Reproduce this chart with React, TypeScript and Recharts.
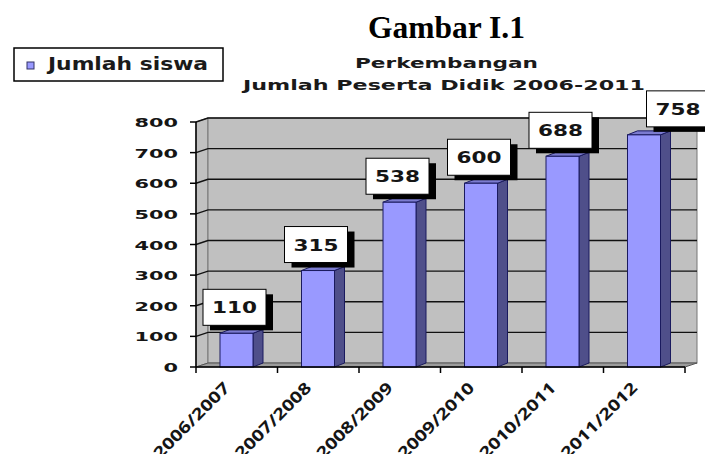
import { Bar, BarChart, LabelList, ReferenceArea, XAxis, YAxis } from 'recharts'

const years = ['2006/2007', '2007/2008', '2008/2009', '2009/2010', '2010/2011', '2011/2012']
const students = [110, 315, 538, 600, 688, 758]
const yTicks = [0, 100, 200, 300, 400, 500, 600, 700, 800]

const data = years.map((year, i) => ({ year, siswa: students[i] }))

// depth of the fake 3D look
const WALL_DX = 12
const WALL_DY = -4
const BAR_DX = 10
const BAR_DY = -4

const WALL = '#c0c0c0'
const FLOOR = '#9c9c9c'
const BAR_FRONT = '#9999ff'
const BAR_SIDE = '#4f4f8a'
const BAR_TOP = '#7b7bd0'
const BAR_EDGE = '#1a1a5e'

function Walls(props: any) {
  const { x, y, width: w, height: h } = props
  const max = yTicks[yTicks.length - 1]
  const n = years.length
  return (
    <g>
      <polygon
        points={`${x},${y} ${x + WALL_DX},${y + WALL_DY} ${x + WALL_DX},${y + h + WALL_DY} ${x},${y + h}`}
        fill={WALL}
        stroke="#777"
      />
      <rect x={x + WALL_DX} y={y + WALL_DY} width={w} height={h} fill={WALL} stroke="#777" />
      <polygon
        points={`${x},${y + h} ${x + WALL_DX},${y + h + WALL_DY} ${x + w + WALL_DX},${y + h + WALL_DY} ${x + w},${y + h}`}
        fill={FLOOR}
        stroke="#555"
      />
      {yTicks.slice(1).map((t) => {
        const gy = y + h - (t / max) * h
        return (
          <polyline
            key={t}
            points={`${x},${gy} ${x + WALL_DX},${gy + WALL_DY} ${x + w + WALL_DX},${gy + WALL_DY}`}
            fill="none"
            stroke="#111"
            strokeWidth={1.4}
          />
        )
      })}
      {Array.from({ length: n + 1 }, (_, k) => (
        <line
          key={k}
          x1={x + (k * w) / n}
          y1={y + h}
          x2={x + (k * w) / n}
          y2={y + h + 6}
          stroke="#000"
          strokeWidth={1.5}
        />
      ))}
    </g>
  )
}

function Bar3D(props: any) {
  const { x, y, width: w, height: h } = props
  if (!h) return null
  return (
    <g stroke={BAR_EDGE} strokeWidth={1}>
      <polygon
        points={`${x + w},${y} ${x + w + BAR_DX},${y + BAR_DY} ${x + w + BAR_DX},${y + h + BAR_DY} ${x + w},${y + h}`}
        fill={BAR_SIDE}
      />
      <polygon
        points={`${x},${y} ${x + BAR_DX},${y + BAR_DY} ${x + w + BAR_DX},${y + BAR_DY} ${x + w},${y}`}
        fill={BAR_TOP}
      />
      <rect x={x} y={y} width={w} height={h} fill={BAR_FRONT} />
    </g>
  )
}

function BoxLabel(props: any) {
  const { x, y, width, value, index } = props
  const shift = index === students.length - 1 ? 34 : -2
  const cx = Number(x) + Number(width) / 2 + shift
  const bw = 63
  const bh = 36
  const bx = cx - bw / 2
  const by = Number(y) - 8 - bh
  return (
    <g>
      <rect x={bx + 7} y={by + 5} width={bw} height={bh} fill="#000" />
      <rect x={bx} y={by} width={bw} height={bh} fill="#fff" stroke="#000" />
      <text
        x={cx}
        y={by + bh / 2 + 6}
        textAnchor="middle"
        fontFamily="DejaVu Sans"
        fontWeight="bold"
        fontSize={16}
        textLength={45}
        lengthAdjust="spacingAndGlyphs"
        fill="#151515"
      >
        {value}
      </text>
    </g>
  )
}

function YTick(props: any) {
  const { x, y, payload } = props
  const s = String(payload.value)
  return (
    <text
      x={x}
      y={y}
      dy={5}
      textAnchor="end"
      fontFamily="DejaVu Sans"
      fontWeight="bold"
      fontSize={13}
      textLength={s.length * 14.5}
      lengthAdjust="spacingAndGlyphs"
      fill="#151515"
    >
      {s}
    </text>
  )
}

function XTick(props: any) {
  const { x, y, payload } = props
  return (
    <g transform={`translate(${x - 6},${y + 22}) rotate(-45)`}>
      <text
        textAnchor="end"
        fontFamily="Open Sans"
        fontWeight={700}
        fontSize={16}
        textLength={100}
        lengthAdjust="spacingAndGlyphs"
        fill="#151515"
      >
        {payload.value}
      </text>
    </g>
  )
}

export default function App() {
  return (
    <div style={{ position: 'absolute', left: 0, top: 0, width: 705, height: 454, background: '#fff' }}>
      <BarChart
        width={705}
        height={454}
        data={data}
        margin={{ top: 122, right: 20, bottom: 7, left: 136 }}
      >
        <ReferenceArea y1={0} y2={800} ifOverflow="visible" shape={Walls} />
        <XAxis
          dataKey="year"
          height={80}
          axisLine={{ stroke: '#000', strokeWidth: 1.5 }}
          tickLine={false}
          tickSize={0}
          tickMargin={0}
          interval={0}
          tick={XTick}
        />
        <YAxis
          width={60}
          domain={[0, 800]}
          ticks={yTicks}
          axisLine={{ stroke: '#000', strokeWidth: 1.5 }}
          tickLine={{ stroke: '#000', strokeWidth: 1.5 }}
          tickSize={6}
          tickMargin={12}
          tick={YTick}
        />
        <Bar dataKey="siswa" barSize={33} shape={Bar3D} isAnimationActive={false}>
          <LabelList dataKey="siswa" content={BoxLabel} />
        </Bar>
      </BarChart>
      <svg
        width={705}
        height={454}
        style={{ position: 'absolute', left: 0, top: 0, pointerEvents: 'none' }}
      >
        <text
          x={446.5}
          y={38}
          textAnchor="middle"
          fontFamily="Liberation Serif"
          fontWeight="bold"
          fontSize={32}
          textLength={157}
          lengthAdjust="spacingAndGlyphs"
          fill="#000"
        >
          Gambar I.1
        </text>
        <text
          x={446.5}
          y={68}
          textAnchor="middle"
          fontFamily="DejaVu Sans"
          fontWeight="bold"
          fontSize={14}
          textLength={183}
          lengthAdjust="spacingAndGlyphs"
          fill="#1a1a1a"
        >
          Perkembangan
        </text>
        <text
          x={444}
          y={90}
          textAnchor="middle"
          fontFamily="DejaVu Sans"
          fontWeight="bold"
          fontSize={14}
          textLength={402}
          lengthAdjust="spacingAndGlyphs"
          fill="#1a1a1a"
        >
          Jumlah Peserta Didik 2006-2011
        </text>
        <rect x={14} y={48} width={209} height={33} fill="#fff" stroke="#000" strokeWidth={1.5} />
        <rect x={27} y={62} width={7} height={7} fill={BAR_FRONT} stroke="#333366" />
        <text
          x={48}
          y={70}
          fontFamily="DejaVu Sans"
          fontWeight="bold"
          fontSize={17}
          textLength={160}
          lengthAdjust="spacingAndGlyphs"
          fill="#1a1a1a"
        >
          Jumlah siswa
        </text>
      </svg>
    </div>
  )
}
